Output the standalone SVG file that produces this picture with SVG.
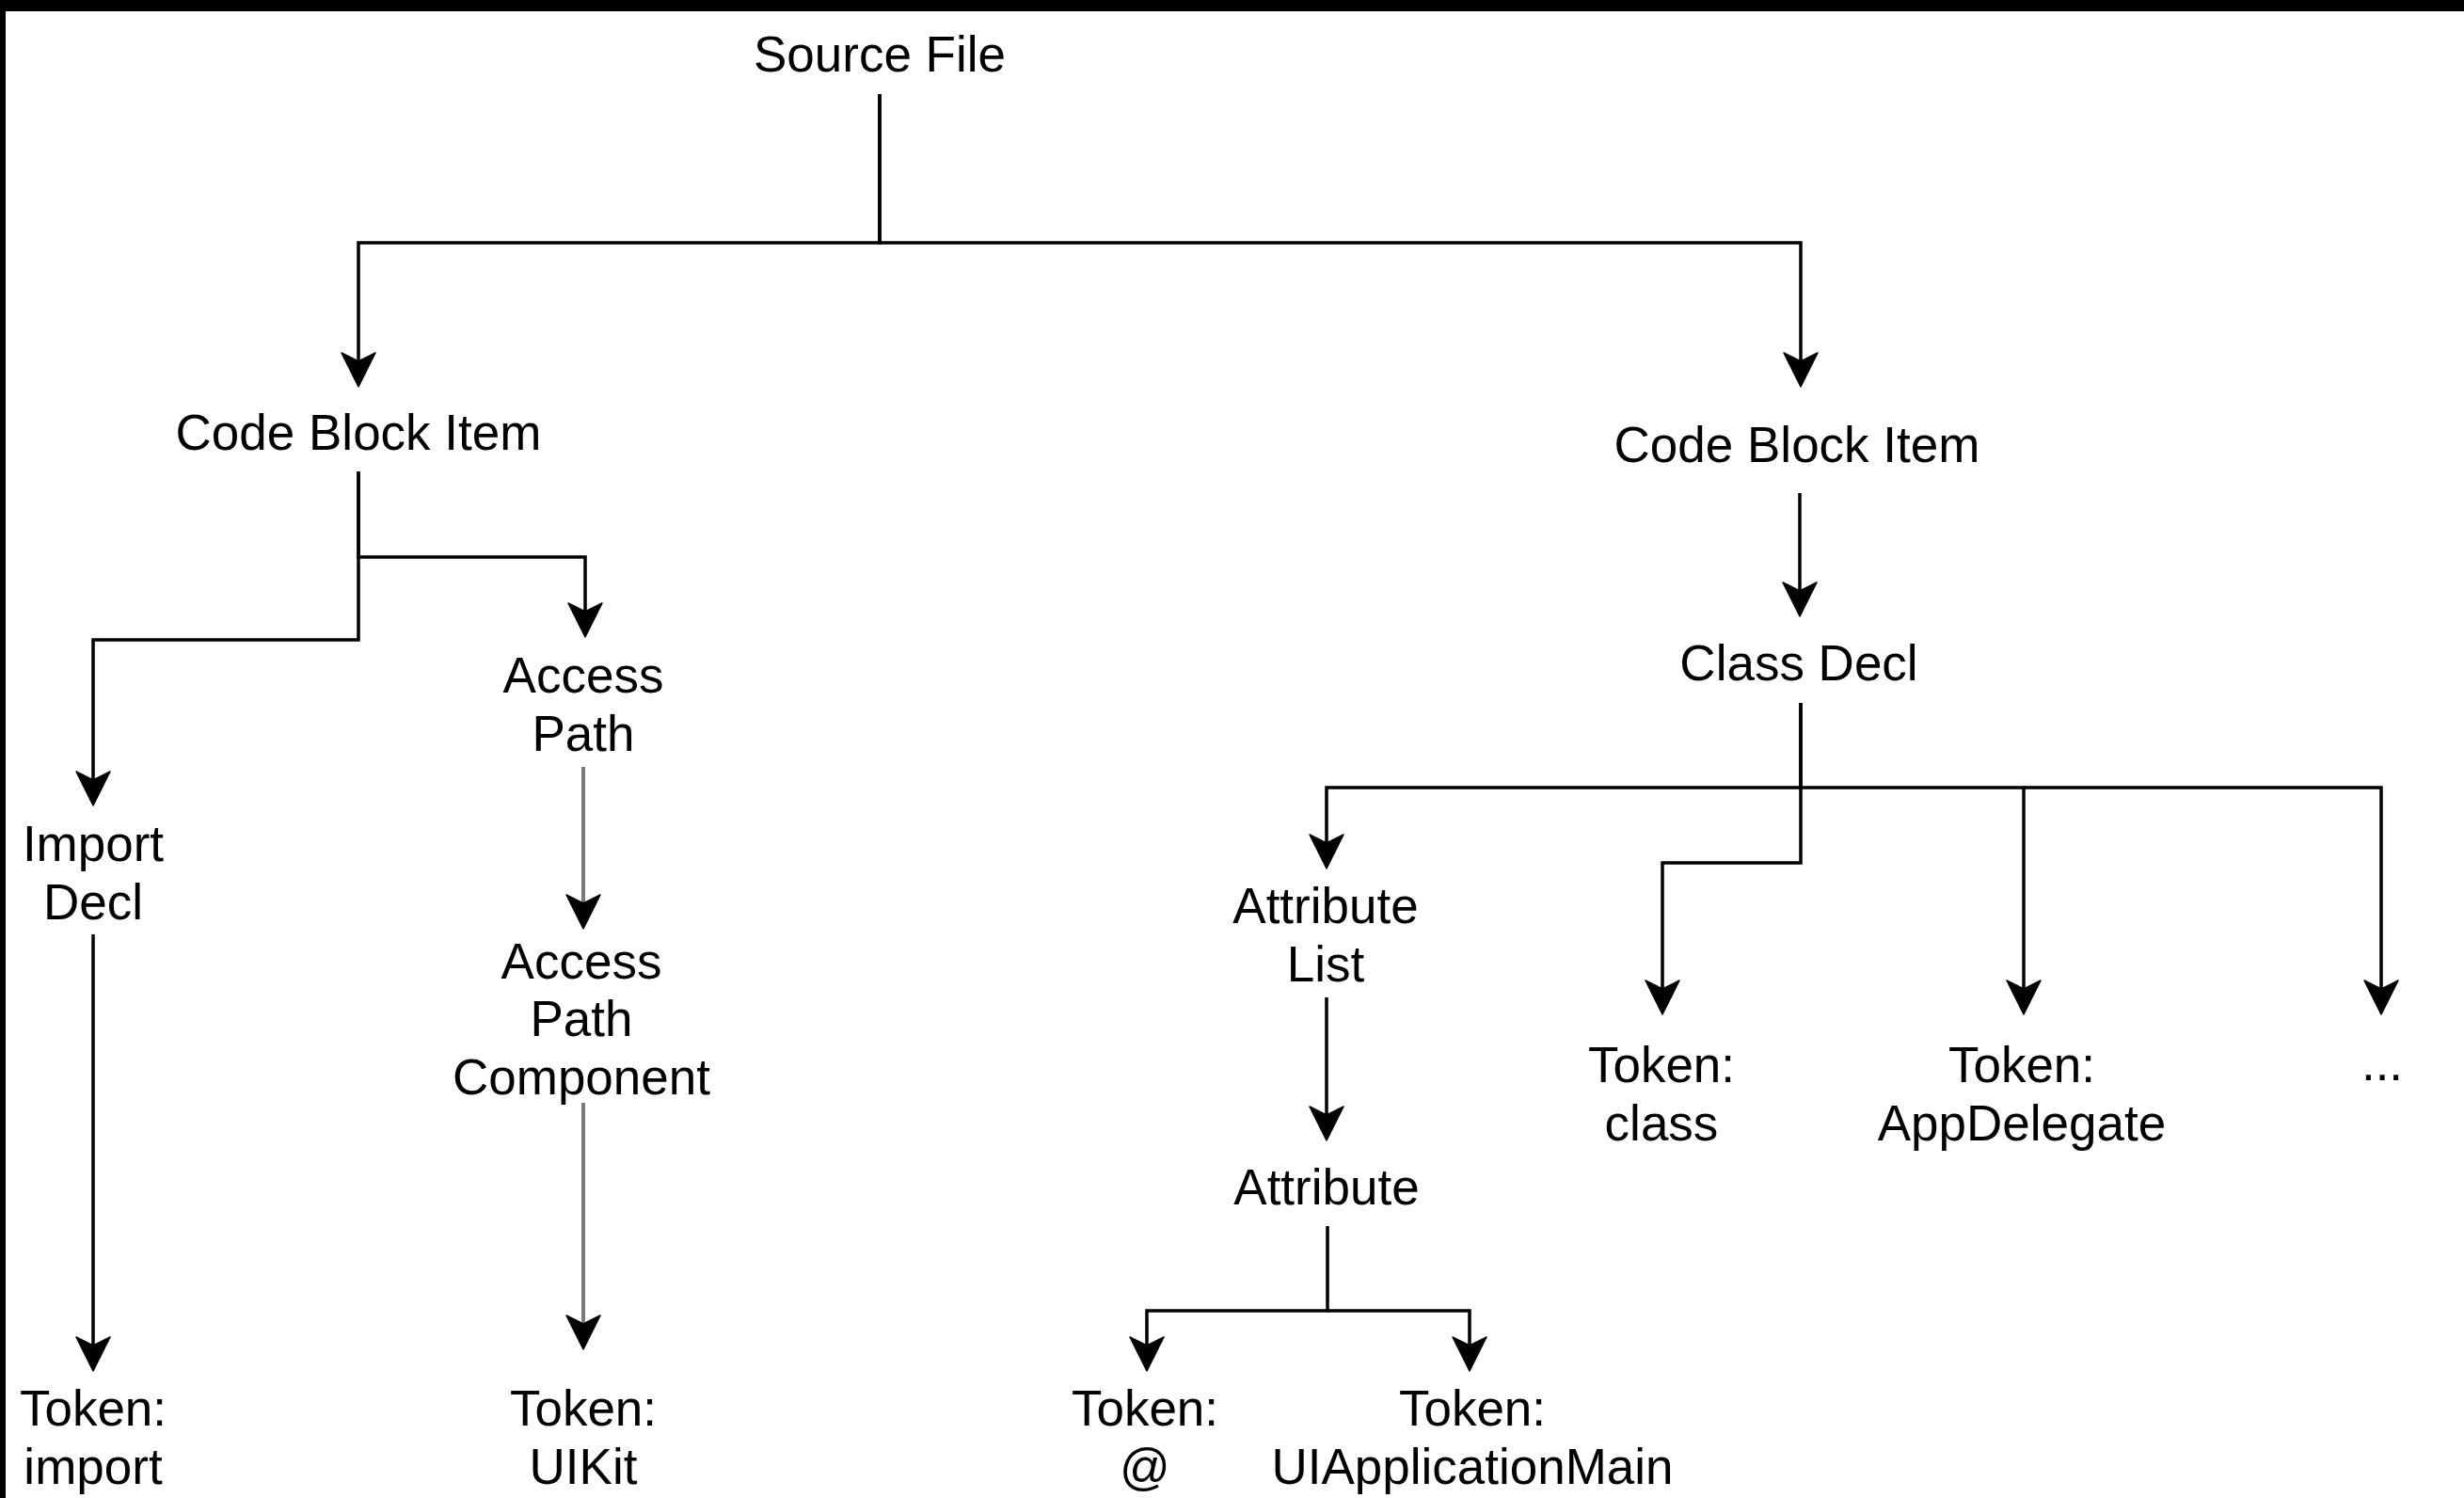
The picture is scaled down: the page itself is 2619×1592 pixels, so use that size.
<svg xmlns="http://www.w3.org/2000/svg" width="2619" height="1592" viewBox="0 0 2619 1592">
  <style>
    .lbl { font-family: "Liberation Sans", Arial, sans-serif; font-size: 53px; fill: #000; text-anchor: middle; }
    .edge { fill: none; stroke: #000; stroke-width: 3.5; stroke-linejoin: miter; }
    .edge.grey { stroke: #7a7a7a; stroke-width: 4; }
  </style>
  <defs>
    <marker id="arrow" markerUnits="userSpaceOnUse" markerWidth="60" markerHeight="60" viewBox="-20 -30 60 60" refX="0" refY="0" orient="auto" overflow="visible">
      <path d="M20,0 L-16,-18 L-7,0 L-16,18 Z" fill="#000" stroke="#000" stroke-width="1.5" stroke-linejoin="round"/>
    </marker>
  </defs>
  <rect x="0" y="0" width="2619" height="1592" fill="#fff"/>
  <rect x="0" y="0" width="2619" height="12" fill="#000"/>
  <rect x="0" y="0" width="6" height="1592" fill="#000"/>

  <g id="connectors">
    <path class="edge" d="M935,100 V258 H381 V391" marker-end="url(#arrow)"/>
    <path class="edge" d="M935,100 V258 H1914 V391" marker-end="url(#arrow)"/>
    <path class="edge" d="M381,501 V592 H622 V657" marker-end="url(#arrow)"/>
    <path class="edge" d="M381,501 V680 H99 V836" marker-end="url(#arrow)"/>
    <path class="edge" d="M1913,524 V635" marker-end="url(#arrow)"/>
    <path class="edge" d="M1914,747 V837 H1410 V903" marker-end="url(#arrow)"/>
    <path class="edge" d="M1914,747 V917 H1767 V1058" marker-end="url(#arrow)"/>
    <path class="edge" d="M1914,837 H2151 V1058" marker-end="url(#arrow)"/>
    <path class="edge" d="M2151,837 H2531 V1058" marker-end="url(#arrow)"/>
    <path class="edge" d="M99,993 V1437" marker-end="url(#arrow)"/>
    <path class="edge grey" d="M620,815 V967" marker-end="url(#arrow)"/>
    <path class="edge grey" d="M620,1172 V1414" marker-end="url(#arrow)"/>
    <path class="edge" d="M1410,1060 V1192" marker-end="url(#arrow)"/>
    <path class="edge" d="M1411,1303 V1393 H1219 V1437" marker-end="url(#arrow)"/>
    <path class="edge" d="M1411,1393 H1562 V1437" marker-end="url(#arrow)"/>
  </g>

  <g id="source-file"><text class="lbl" x="935" y="76">Source File</text></g>
  <g id="code-block-item-1"><text class="lbl" x="381" y="478">Code Block Item</text></g>
  <g id="code-block-item-2"><text class="lbl" x="1910" y="491">Code Block Item</text></g>
  <g id="access-path"><text class="lbl" x="620" y="736">Access</text><text class="lbl" x="620" y="798">Path</text></g>
  <g id="import-decl"><text class="lbl" x="99" y="915">Import</text><text class="lbl" x="99" y="977">Decl</text></g>
  <g id="access-path-component"><text class="lbl" x="618" y="1040">Access</text><text class="lbl" x="618" y="1101">Path</text><text class="lbl" x="618" y="1163">Component</text></g>
  <g id="token-import"><text class="lbl" x="99" y="1515">Token:</text><text class="lbl" x="99" y="1577">import</text></g>
  <g id="token-uikit"><text class="lbl" x="620" y="1515">Token:</text><text class="lbl" x="620" y="1577">UIKit</text></g>
  <g id="class-decl"><text class="lbl" x="1912" y="723">Class Decl</text></g>
  <g id="attribute-list"><text class="lbl" x="1409" y="981">Attribute</text><text class="lbl" x="1409" y="1043">List</text></g>
  <g id="token-class"><text class="lbl" x="1766" y="1150">Token:</text><text class="lbl" x="1766" y="1212">class</text></g>
  <g id="token-appdelegate"><text class="lbl" x="2149" y="1150">Token:</text><text class="lbl" x="2149" y="1212">AppDelegate</text></g>
  <g id="ellipsis"><text class="lbl" x="2532" y="1148">...</text></g>
  <g id="attribute"><text class="lbl" x="1410" y="1280">Attribute</text></g>
  <g id="token-at"><text class="lbl" x="1217" y="1515">Token:</text><text class="lbl" x="1217" y="1577">@</text></g>
  <g id="token-uiapplicationmain"><text class="lbl" x="1565" y="1515">Token:</text><text class="lbl" x="1565" y="1577">UIApplicationMain</text></g>
</svg>
